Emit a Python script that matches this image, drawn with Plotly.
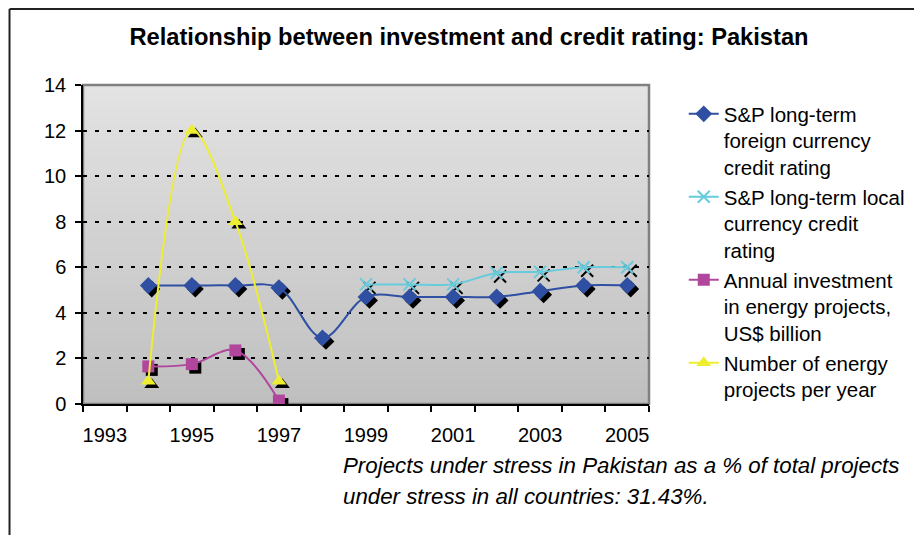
#!/usr/bin/env python3

# Pakistan: credit rating vs investment in energy projects, Excel-style line chart

import plotly.graph_objects as go

years = list(range(1993, 2006))
tick_years = [1993, 1995, 1997, 1999, 2001, 2003, 2005]

# S&P long-term foreign currency credit rating
foreign_years = [1994, 1995, 1996, 1997, 1998, 1999, 2000, 2001, 2002, 2003, 2004, 2005]
foreign_rating = [5.2, 5.2, 5.2, 5.1, 2.9, 4.7, 4.7, 4.7, 4.7, 4.95, 5.2, 5.2]

# S&P long-term local currency credit rating
local_years = [1999, 2000, 2001, 2002, 2003, 2004, 2005]
local_rating = [5.25, 5.25, 5.25, 5.75, 5.8, 6.0, 6.0]

# Annual investment in energy projects, US$ billion
invest_years = [1994, 1995, 1996, 1997]
invest_bn = [1.65, 1.75, 2.35, 0.15]

# Number of energy projects per year
proj_years = [1994, 1995, 1996, 1997]
proj_count = [1, 12, 8, 1]

FONT = "Liberation Sans, Arial, sans-serif"
BLUE = "#2F4FA2"
CYAN = "#66CCDD"
MAGENTA = "#B0479D"
YELLOW = "#EEEE30"

# figure size; the page body adds an 8px margin around it
W, H = 914, 527
L, T = 75, 77
PW, PH = 570, 319
R, B = W - L - PW, H - T - PH
XR = [1992.5, 2005.5]
YR = [0, 14]
SHADOW_PX = 3.5
dx = SHADOW_PX * (XR[1] - XR[0]) / PW
dy = SHADOW_PX * (YR[1] - YR[0]) / PH

series = [
    ("S&P long-term<br>foreign currency<br>credit rating", foreign_years, foreign_rating,
     BLUE, "diamond", 13, 0),
    ("S&P long-term local<br>currency credit<br>rating", local_years, local_rating,
     CYAN, "x-thin", 12, 2),
    ("Annual investment<br>in energy projects,<br>US$ billion", invest_years, invest_bn,
     MAGENTA, "square", 12, 0),
    ("Number of energy<br>projects per year", proj_years, proj_count,
     YELLOW, "triangle-up", 13, 0),
]

fig = go.Figure()

# empty trace so the visible base axes get drawn
fig.add_trace(go.Scatter(x=[None], y=[None], showlegend=False, hoverinfo="skip"))

# black drop shadows on an overlay axis pair shifted a few pixels
for name, xs, ys, col, sym, size, lw in series:
    fig.add_trace(go.Scatter(x=xs, y=ys, mode="markers", showlegend=False,
                             hoverinfo="skip", xaxis="x2", yaxis="y2",
                             marker=dict(symbol=sym, size=size, color="black",
                                         line=dict(color="black", width=lw))))

for i, (name, xs, ys, col, sym, size, lw) in enumerate(series):
    fig.add_trace(go.Scatter(x=xs, y=ys, name=name, mode="lines+markers",
                             legendgroup=str(i), xaxis="x3", yaxis="y3",
                             line=dict(color=col, width=2, shape="spline", smoothing=1),
                             marker=dict(symbol=sym, size=size, color=col,
                                         line=dict(color=col, width=lw))))

# gradient plot background as thin overlapping bands
shapes = []
NB = 40
top_c, bot_c = (227, 227, 227), (191, 191, 191)
for k in range(NB):
    t = (k + 0.5) / NB
    c = tuple(round(bot_c[j] + (top_c[j] - bot_c[j]) * t) for j in range(3))
    shapes.append(dict(type="rect", xref="paper", yref="paper", x0=0, x1=1,
                       y0=k / NB, y1=min(1, (k + 1.6) / NB), layer="below",
                       line=dict(width=0), fillcolor="rgb(%d,%d,%d)" % c))
shapes.append(dict(type="rect", xref="paper", yref="paper", x0=0, x1=1, y0=0, y1=1,
                   layer="below", line=dict(color="#808080", width=2.5)))
# outer chart frame (left and top edges are visible)
fx0 = (1 - L) / PW
fy1 = 1 + (T - 1) / PH
shapes.append(dict(type="line", xref="paper", yref="paper", x0=fx0, x1=fx0,
                   y0=-(B + 5) / PH, y1=fy1, line=dict(color="#222222", width=2)))
shapes.append(dict(type="line", xref="paper", yref="paper", x0=fx0, x1=(W - L + 5) / PW,
                   y0=fy1, y1=fy1, line=dict(color="#222222", width=2)))

hidden = dict(visible=False, showgrid=False, zeroline=False)


def py(px):
    """figure pixel row -> paper y"""
    return (T + PH - px) / PH


fig.update_layout(
    width=W, height=H,
    margin=dict(l=L, r=R, t=T, b=B),
    paper_bgcolor="white",
    plot_bgcolor="rgba(0,0,0,0)",
    font=dict(family=FONT, size=20, color="black"),
    title=dict(text="<b>Relationship between investment and credit rating: Pakistan</b>",
               x=461 / W, xanchor="center", y=1 - 29 / H, yanchor="middle",
               font=dict(family=FONT, size=23.7, color="black")),
    xaxis=dict(range=XR, tickvals=tick_years, ticks="", showgrid=False, zeroline=False,
               showline=True, linecolor="black", linewidth=1.5,
               ticklabelstandoff=12, tickfont=dict(size=20),
               minor=dict(tickvals=[y - 0.5 for y in years] + [years[-1] + 0.5],
                          ticks="outside", ticklen=6, tickcolor="black", tickwidth=1.5,
                          showgrid=False)),
    yaxis=dict(range=YR, dtick=2, ticks="outside", ticklen=6, tickcolor="black",
               tickwidth=1.5, showline=True, linecolor="black", linewidth=1.5,
               showgrid=True, gridcolor="black", gridwidth=1.5, griddash="4px,8px",
               zeroline=False, ticklabelstandoff=5, tickfont=dict(size=20)),
    xaxis2=dict(range=[XR[0] - dx, XR[1] - dx], overlaying="x", **hidden),
    yaxis2=dict(range=[YR[0] + dy, YR[1] + dy], overlaying="y", **hidden),
    xaxis3=dict(range=XR, overlaying="x", **hidden),
    yaxis3=dict(range=YR, overlaying="y", **hidden),
    legend=dict(x=(680 - L) / PW, xanchor="left", y=py(86), yanchor="top",
                font=dict(family=FONT, size=20.5, color="black"),
                bgcolor="rgba(0,0,0,0)", valign="top", tracegroupgap=0,
                maxheight=H, itemclick=False, itemdoubleclick=False),
    shapes=shapes,
    annotations=[
        dict(text="<i>Projects under stress in Pakistan as a % of total projects</i>",
             xref="paper", yref="paper", x=(335 - L) / PW, xanchor="left",
             y=py(458), yanchor="middle", showarrow=False,
             font=dict(family=FONT, size=22.3, color="black")),
        dict(text="<i>under stress in all countries: 31.43%.</i>",
             xref="paper", yref="paper", x=(335 - L) / PW, xanchor="left",
             y=py(488), yanchor="middle", showarrow=False,
             font=dict(family=FONT, size=22.3, color="black")),
    ],
    hovermode=False,
)

fig.write_html("out.html")
